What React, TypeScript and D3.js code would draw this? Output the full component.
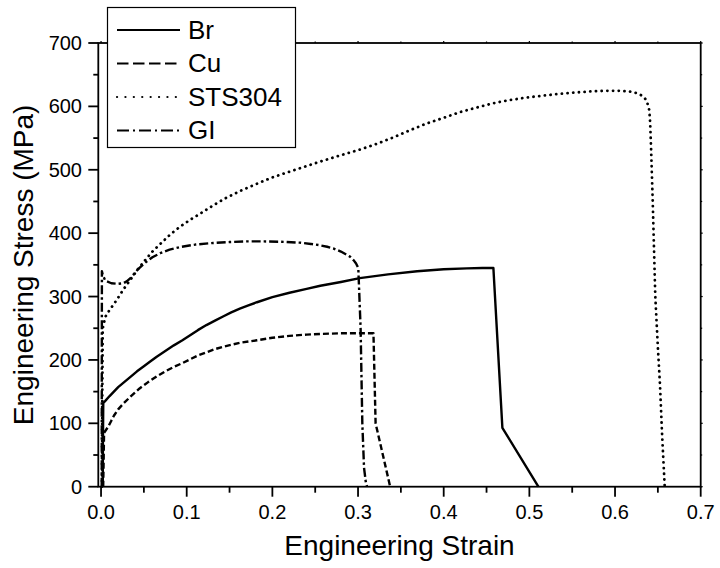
import React, { useEffect, useRef } from "react";
import * as d3 from "d3";

// strain / stress pairs
const brStrain = [0.002, 0.0022, 0.0026, 0.0047, 0.01, 0.02, 0.027, 0.034, 0.042, 0.05, 0.057, 0.065, 0.075, 0.085, 0.095, 0.104, 0.113, 0.123, 0.133, 0.143, 0.152, 0.162, 0.172, 0.182, 0.2, 0.22, 0.24, 0.256, 0.28, 0.302, 0.335, 0.369, 0.4, 0.427, 0.445, 0.458, 0.4685, 0.5105];
const brStress = [0, 70, 132, 135, 143, 157, 165, 173, 182, 190, 197, 205, 214, 223, 231, 239, 247, 255, 262, 269, 275, 281, 286, 291, 299, 306, 312, 317, 323, 329, 335, 340, 343, 344.5, 345, 345, 93, 0];

const cuStrain = [0.0025, 0.003, 0.0035, 0.0085, 0.012, 0.015, 0.02, 0.026, 0.035, 0.045, 0.055, 0.065, 0.075, 0.085, 0.095, 0.104, 0.113, 0.123, 0.133, 0.143, 0.162, 0.182, 0.2, 0.22, 0.24, 0.256, 0.28, 0.3, 0.318, 0.3205, 0.3375];
const cuStress = [0, 40, 85, 95, 104, 112, 122, 131, 143, 155, 165, 174, 182, 189, 195, 201, 207, 212, 217, 221, 227, 231, 235, 238, 240, 241, 242, 242, 242, 100, 0];

const stsStrain = [0.001, 0.0015, 0.002, 0.005, 0.01, 0.0144, 0.0194, 0.026, 0.034, 0.043, 0.053, 0.06, 0.07, 0.08, 0.092, 0.104, 0.116, 0.13, 0.145, 0.163, 0.182, 0.2, 0.22, 0.238, 0.256, 0.28, 0.3026, 0.322, 0.341, 0.36, 0.38, 0.4, 0.419, 0.438, 0.458, 0.477, 0.497, 0.516, 0.536, 0.555, 0.575, 0.59, 0.606, 0.617, 0.625, 0.63, 0.634, 0.637, 0.64, 0.641, 0.642, 0.644, 0.647, 0.65, 0.6525, 0.655, 0.658];
const stsStress = [0, 150, 250, 268, 279, 287, 297, 311, 326, 343, 360, 371, 384, 397, 410, 421, 431, 443, 455, 467, 478, 488, 497, 505, 513, 523, 532, 541, 551, 562, 573, 582, 591, 598, 605, 610, 614, 617, 620, 622, 624, 624.5, 624.5, 623.5, 621, 618, 614, 609, 594, 574, 537, 450, 300, 220, 160, 80, 0];

const giStrain = [0.0008, 0.0009, 0.001, 0.002, 0.005, 0.012, 0.02, 0.026, 0.03, 0.035, 0.043, 0.053, 0.06, 0.07, 0.08, 0.092, 0.11, 0.131, 0.15, 0.17, 0.19, 0.209, 0.232, 0.245, 0.255, 0.264, 0.271, 0.28, 0.2906, 0.295, 0.2977, 0.3003, 0.303, 0.305, 0.307, 0.309, 0.3105];
const giStress = [0, 200, 340, 334, 325, 321, 320, 321, 324, 330, 343, 355, 362, 369, 374, 378, 382, 384.5, 386, 387, 387, 386.5, 385, 383, 381, 378.5, 376, 371, 363, 357, 352, 345, 250, 100, 30, 8, 0];

const seriesNames = ["Br", "Cu", "STS304", "GI"];
const plotDash = [null, "6,3", "0.1,5.6", "9,3,2.5,3"];
const legendDash = [null, "11.5,4.5", "0.1,8.3", "12,4,2,4"];

const xTicks = [0, 0.1, 0.2, 0.3, 0.4, 0.5, 0.6, 0.7];
const yTicks = [0, 100, 200, 300, 400, 500, 600, 700];

const W = 720, H = 568;
const font = "'Liberation Sans', Arial, sans-serif";

export default function App() {
  const ref = useRef<SVGSVGElement | null>(null);

  useEffect(() => {
    const svg = d3.select(ref.current);
    svg.selectAll("*").remove();

    const x = d3.scaleLinear().domain([-0.0032, 0.7]).range([98.3, 700.7]);
    const y = d3.scaleLinear().domain([0, 700]).range([486.7, 43]);

    const series = [
      d3.zip(brStrain, brStress),
      d3.zip(cuStrain, cuStress),
      d3.zip(stsStrain, stsStress),
      d3.zip(giStrain, giStress),
    ];

    const line = d3.line<number[]>()
      .x(d => x(d[0]))
      .y(d => y(d[1]));

    series.forEach((s, i) => {
      svg.append("path")
        .attr("d", line(s))
        .attr("fill", "none")
        .attr("stroke", "#000")
        .attr("stroke-width", i === 2 ? 2.8 : 2.4)
        .attr("stroke-linecap", i === 2 ? "round" : "butt")
        .attr("stroke-linejoin", "round")
        .attr("stroke-dasharray", plotDash[i]);
    });

    // frame
    const [x0, x1] = x.range();
    const [y0, y1] = y.range();
    svg.append("rect")
      .attr("x", x0).attr("y", y1)
      .attr("width", x1 - x0).attr("height", y0 - y1)
      .attr("fill", "none").attr("stroke", "#000").attr("stroke-width", 1.8);

    // bottom axis
    const xMinor = d3.range(0.05, 0.7, 0.1);
    const bx = svg.append("g");
    xTicks.forEach(t => {
      bx.append("line").attr("x1", x(t)).attr("x2", x(t)).attr("y1", y0).attr("y2", y0 + 10)
        .attr("stroke", "#000").attr("stroke-width", 1.8);
      bx.append("line").attr("x1", x(t)).attr("x2", x(t)).attr("y1", y1).attr("y2", y1 - 2)
        .attr("stroke", "#000").attr("stroke-width", 1.2);
      bx.append("text").attr("x", x(t)).attr("y", 519).attr("text-anchor", "middle")
        .attr("font-family", font).attr("font-size", 20).text(d3.format(".1f")(t));
    });
    xMinor.forEach(t => {
      bx.append("line").attr("x1", x(t)).attr("x2", x(t)).attr("y1", y0).attr("y2", y0 + 6)
        .attr("stroke", "#000").attr("stroke-width", 1.8);
      bx.append("line").attr("x1", x(t)).attr("x2", x(t)).attr("y1", y1).attr("y2", y1 - 1.5)
        .attr("stroke", "#000").attr("stroke-width", 1.2);
    });

    // left axis
    const yMinor = d3.range(50, 700, 100);
    const ly = svg.append("g");
    yTicks.forEach(t => {
      ly.append("line").attr("x1", x0 - 10).attr("x2", x0).attr("y1", y(t)).attr("y2", y(t))
        .attr("stroke", "#000").attr("stroke-width", 1.8);
      ly.append("line").attr("x1", x1).attr("x2", x1 + 2).attr("y1", y(t)).attr("y2", y(t))
        .attr("stroke", "#000").attr("stroke-width", 1.2);
      ly.append("text").attr("x", 82).attr("y", y(t) + 7).attr("text-anchor", "end")
        .attr("font-family", font).attr("font-size", 20).text(t);
    });
    yMinor.forEach(t => {
      ly.append("line").attr("x1", x0 - 5).attr("x2", x0).attr("y1", y(t)).attr("y2", y(t))
        .attr("stroke", "#000").attr("stroke-width", 1.8);
      ly.append("line").attr("x1", x1).attr("x2", x1 + 1.5).attr("y1", y(t)).attr("y2", y(t))
        .attr("stroke", "#000").attr("stroke-width", 1.2);
    });

    // axis titles
    svg.append("text").attr("x", (x0 + x1) / 2).attr("y", 555).attr("text-anchor", "middle")
      .attr("font-family", font).attr("font-size", 28).text("Engineering Strain");
    svg.append("text").attr("transform", `translate(33,${(y0 + y1) / 2}) rotate(-90)`)
      .attr("text-anchor", "middle")
      .attr("font-family", font).attr("font-size", 28).text("Engineering Stress (MPa)");

    // legend
    const lg = svg.append("g");
    lg.append("rect").attr("x", 107.5).attr("y", 7.5).attr("width", 188).attr("height", 140)
      .attr("fill", "#fff").attr("stroke", "#000").attr("stroke-width", 1.2);
    const rowY = [30, 63.5, 97, 130.5];
    seriesNames.forEach((name, i) => {
      lg.append("line").attr("x1", 117).attr("x2", 180).attr("y1", rowY[i]).attr("y2", rowY[i])
        .attr("stroke", "#000").attr("stroke-width", i === 2 ? 2.2 : 2)
        .attr("stroke-linecap", i === 2 ? "round" : "butt")
        .attr("stroke-dasharray", legendDash[i]);
      lg.append("text").attr("x", 188).attr("y", rowY[i] + 8.5)
        .attr("font-family", font).attr("font-size", 26).text(name);
    });
  }, []);

  return (
    <svg ref={ref} width={W} height={H}
      style={{ position: "absolute", left: 0, top: 0, display: "block", background: "#fff" }} />
  );
}
